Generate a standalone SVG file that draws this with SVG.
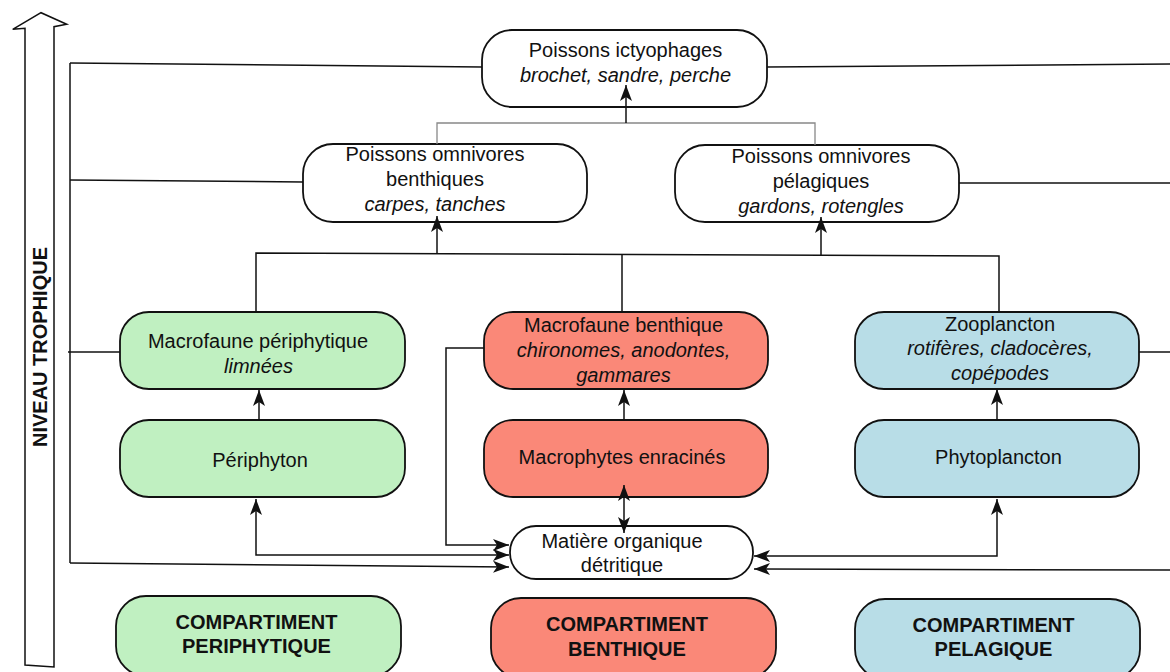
<svg xmlns="http://www.w3.org/2000/svg" width="1170" height="672" viewBox="0 0 1170 672">
<style>
text{font-family:"Liberation Sans",Arial,sans-serif;font-size:20px;fill:#111;text-anchor:middle}
.i{font-style:italic}
.b{font-weight:bold}
.node{stroke:#111;stroke-width:1.8}
.w{fill:#fff}
.g{fill:#c0f0c1}
.r{fill:#fa8878}
.bl{fill:#b8dde7}
.c{fill:none;stroke:#111;stroke-width:1.5}
.gr{fill:none;stroke:#888;stroke-width:1.3}
.a{marker-end:url(#ah)}
.aa{marker-end:url(#ah);marker-start:url(#ah)}
</style>
<defs>
<marker id="ah" viewBox="-16 -7 17 14" refX="0" refY="0" markerWidth="17" markerHeight="14" markerUnits="userSpaceOnUse" orient="auto-start-reverse">
<path d="M0,0 L-16,-6 L-12,0 L-16,6 Z" fill="#111"/>
</marker>
</defs>
<rect width="1170" height="672" fill="#fff"/>
<g id="axis">
<polygon points="25,665 25,28.3 12.7,29.3 41,12.7 66.7,24.3 54,26.7 54,667" fill="#fff" stroke="#111" stroke-width="1.5"/>
<text class="b" transform="translate(47,347) rotate(-90)">NIVEAU TROPHIQUE</text>
</g>
<g id="n-ictyo"><rect class="node w" x="482" y="30" width="285" height="77" rx="30"/><text x="625.5" y="57">Poissons ictyophages</text><text class="i" x="625.5" y="82">brochet, sandre, perche</text></g>
<g id="n-omni-benth"><rect class="node w" x="303" y="144" width="284" height="78" rx="30"/><text x="435" y="161">Poissons omnivores</text><text x="435" y="186">benthiques</text><text class="i" x="435" y="211">carpes, tanches</text></g>
<g id="n-omni-pelag"><rect class="node w" x="675" y="145" width="284" height="77" rx="30"/><text x="821" y="163">Poissons omnivores</text><text x="821" y="188">pélagiques</text><text class="i" x="821" y="213">gardons, rotengles</text></g>
<g id="n-macro-peri"><rect class="node g" x="120" y="312" width="285" height="77" rx="29"/><text x="258" y="348">Macrofaune périphytique</text><text class="i" x="258.5" y="373">limnées</text></g>
<g id="n-periphyton"><rect class="node g" x="120" y="420" width="285" height="77" rx="29"/><text x="260" y="467">Périphyton</text></g>
<g id="n-macro-benth"><rect class="node r" x="484" y="312" width="284" height="77" rx="29"/><text x="623.5" y="332">Macrofaune benthique</text><text class="i" x="623.5" y="357">chironomes, anodontes,</text><text class="i" x="623.5" y="382">gammares</text></g>
<g id="n-macrophytes"><rect class="node r" x="484" y="420" width="284" height="77" rx="29"/><text x="622" y="464">Macrophytes enracinés</text></g>
<g id="n-zoo"><rect class="node bl" x="855" y="312" width="284" height="77" rx="29"/><text x="1000" y="331">Zooplancton</text><text class="i" x="1000" y="355">rotifères, cladocères,</text><text class="i" x="1000" y="380">copépodes</text></g>
<g id="n-phyto"><rect class="node bl" x="855" y="420" width="284" height="77" rx="29"/><text x="998.5" y="464">Phytoplancton</text></g>
<g id="n-detritus"><rect class="node w" x="510" y="526" width="243" height="53" rx="26"/><text x="622" y="548">Matière organique</text><text x="622" y="572">détritique</text></g>
<g id="c-peri"><rect class="node g" x="116" y="596" width="285" height="80" rx="30"/><text class="b" x="256.5" y="629">COMPARTIMENT</text><text class="b" x="256.5" y="653">PERIPHYTIQUE</text></g>
<g id="c-benth"><rect class="node r" x="491" y="598" width="285" height="80" rx="30"/><text class="b" x="627" y="631">COMPARTIMENT</text><text class="b" x="627" y="656">BENTHIQUE</text></g>
<g id="c-pelag"><rect class="node bl" x="855" y="599" width="285" height="80" rx="30"/><text class="b" x="993.5" y="632">COMPARTIMENT</text><text class="b" x="993.5" y="656">PELAGIQUE</text></g>
<g id="connectors">
<path class="c" d="M70,63 L70,563"/>
<path class="c" d="M70,63 L482,67"/>
<path class="c" d="M70,180 L303,182"/>
<path class="c" d="M68,352 L120,352"/>
<path class="c a" d="M70,563 L509,567"/>
<path class="c" d="M767,67 L1170,64"/>
<path class="c" d="M959,183 L1170,183"/>
<path class="c" d="M1139,352 L1170,352"/>
<path class="c a" d="M1170,570 L754,569"/>
<path class="c aa" d="M754,556 L997,556 L997,499"/>
<path class="c aa" d="M256,499 L256,555 L509,555"/>
<path class="c a" d="M484,348 L446,348 L446,545 L509,545"/>
<path class="c aa" d="M624,485 L624,533"/>
<path class="c a" d="M259,420 L259,390"/>
<path class="c a" d="M624,420 L624,390"/>
<path class="c a" d="M997,420 L997,389"/>
<path class="c" d="M256,312 L256,253 L999,256 L999,312"/>
<path class="c" d="M622,254 L622,312"/>
<path class="c a" d="M437,253 L437,216"/>
<path class="c a" d="M821,255 L821,217"/>
<path class="gr" d="M437,144 L437,123 L815,123 L815,145"/>
<path class="c a" d="M626,123 L626,85"/>
</g>
</svg>
